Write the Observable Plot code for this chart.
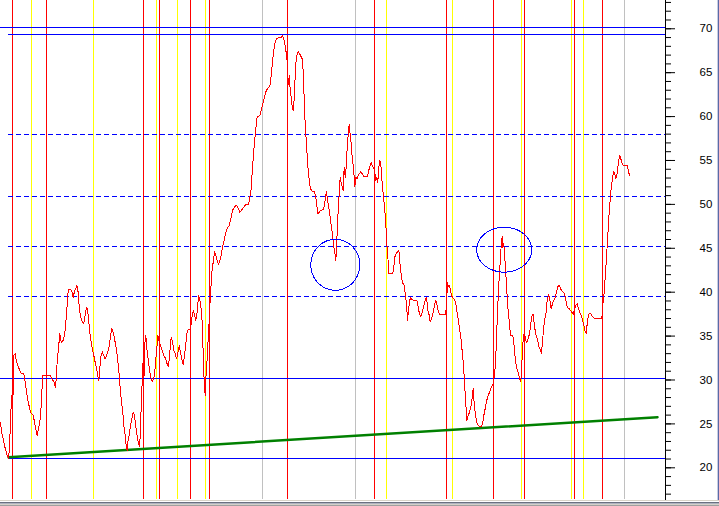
<!DOCTYPE html>
<html>
<head>
<meta charset="utf-8">
<script src="https://cdn.jsdelivr.net/npm/d3@7"></script>
<script src="https://cdn.jsdelivr.net/npm/@observablehq/plot@0.6"></script>
<style>
  html, body { margin: 0; padding: 0; background: #ffffff; }
  #wrap { position: relative; width: 719px; height: 506px; overflow: hidden; }
  #frameB { position: absolute; left: 0; top: 500px; width: 719px; height: 6px;
    background: linear-gradient(to bottom, #d8d4c8 0 1px, #ffffff 1px 2px, #6a7080 2px 3px, #b0b4c0 3px 4px, #d4d0c8 4px 5px, #a0a0a0 5px 6px); }
  #frameR { position: absolute; left: 717px; top: 0; width: 2px; height: 500px;
    background: linear-gradient(to right, #c8cce0 0 1px, #5a6aa8 1px 2px); }
</style>
</head>
<body>
<div id="wrap"></div>
<script>
// price series: [trading-day position, value]
const priceSeries = [
[0,25.2],[1,24.1],[2.7,23.3],[4.7,22.2],[6.7,21.4],[8,21.1],[9,22.2],[10.3,26.3],[11.3,28.2],[12.3,27.0],[13.3,32.8],[14.7,33.0],[15.7,32.2],[17.3,31.6],[19.3,31.1],[20.7,30.7],[23.3,30.7],[24.7,29.8],[26,28.6],[27.3,27.7],[29.3,26.7],[30.7,26.2],[32.7,26.0],[34,25.2],[35.3,24.4],[36.7,23.7],[38,24.4],[39.3,25.2],[40.3,26.3],[41.3,28.6],[42.3,30.5],[45.3,30.5],[50,30.5],[51.7,30.1],[53.3,29.8],[55,29.2],[56,30.5],[56.7,32.2],[58,33.6],[59.3,35.3],[60.7,34.3],[62.7,34.5],[64,35.1],[65,36.0],[66,37.7],[67,38.9],[67.7,40.3],[70,40.3],[71.7,40.0],[72.7,39.4],[74,40.1],[75.3,40.4],[76,40.8],[77.3,40.4],[78.3,38.9],[79.3,37.7],[80.7,37.0],[82,36.6],[83.3,36.4],[84.7,37.4],[86,38.3],[87,38.1],[88,37.0],[89.3,35.4],[90.7,34.3],[92,33.4],[93.3,32.8],[94.7,32.0],[96,31.3],[97.3,30.5],[98.3,29.9],[99.3,31.3],[100.3,32.6],[101.7,33.2],[103.3,32.8],[104.7,32.4],[106,32.8],[107.3,33.2],[108.7,33.9],[110,34.9],[111.3,35.9],[112.7,35.4],[114,34.7],[115.3,33.9],[116.7,32.8],[118,31.5],[119,30.1],[120,28.6],[121,27.5],[122.3,26.3],[123.3,24.8],[124.7,23.7],[125.7,22.5],[126.7,22.0],[127.7,23.3],[128.7,23.7],[130,24.8],[131.3,25.6],[132.7,26.3],[134,26.0],[135,25.0],[136,24.1],[137.3,23.1],[139,22.4],[140,24.1],[140.7,27.1],[141.7,29.8],[142.7,32.4],[143.7,30.5],[144.7,35.1],[145.7,34.7],[146.7,33.2],[148,32.0],[149.3,30.9],[150.7,30.1],[151.7,29.8],[152.7,30.1],[154,30.5],[155,32.0],[156.3,33.6],[157.3,35.1],[158.7,34.3],[160,33.9],[161.7,33.4],[163.3,32.8],[165.3,32.4],[166.7,31.8],[168,31.5],[169.3,33.2],[170.7,34.9],[172,34.3],[173.3,33.4],[174.7,33.0],[176,32.4],[177.3,33.0],[178.7,33.9],[180,33.2],[181.3,32.4],[182.7,31.8],[184,32.8],[185.3,34.1],[186.7,35.6],[188.7,35.8],[190,35.8],[191.3,37.0],[192.7,37.9],[194,37.4],[195.3,36.8],[196.7,37.7],[198,39.6],[199.3,39.2],[200.7,38.1],[202,36.0],[202.7,32.8],[203.7,29.8],[204.7,28.2],[205.7,30.9],[206.7,32.4],[207.7,34.7],[208.7,36.8],[209.7,39.2],[210.7,41.1],[211.7,42.7],[212.7,43.4],[214,44.6],[215.3,44.2],[216.7,43.6],[218,43.2],[219.3,43.6],[220.7,44.2],[222,45.1],[223.3,45.7],[224.7,46.5],[226,47.1],[227.3,47.4],[228.7,47.6],[230,48.2],[231.3,48.9],[232.7,49.5],[234,49.7],[236,49.9],[238,49.5],[239.3,49.1],[240.7,49.3],[242,49.5],[243.3,49.7],[244.7,49.9],[246,50.0],[248,50.0],[249.3,50.8],[250.7,51.8],[251.7,53.7],[252.7,55.2],[253.7,56.7],[254.7,57.9],[255.7,59.0],[256.7,60.0],[259.3,60.1],[260.7,60.7],[262,61.3],[263.3,61.9],[264.7,62.6],[266,63.0],[267.3,63.2],[268.7,63.4],[269.7,63.6],[270.7,64.7],[271.7,65.9],[272.7,67.0],[274,68.1],[275.3,68.7],[276.7,68.9],[278.7,69.0],[280.7,69.0],[282,69.2],[283.3,68.8],[284.7,68.1],[286,67.0],[286.7,66.2],[287.3,64.7],[288,63.6],[288.7,64.7],[289.3,63.6],[290.3,62.5],[291.3,61.5],[292,60.9],[292.7,60.7],[293.7,62.0],[294.7,64.7],[295.7,66.5],[296.7,67.1],[298,67.4],[299.3,67.1],[300.7,66.8],[302,66.5],[303,64.3],[304,60.9],[305,58.4],[306,56.9],[307,54.8],[308,53.5],[309,52.5],[310,51.8],[311.7,51.5],[314,51.5],[315.3,50.8],[316.3,49.9],[317.3,48.9],[318.7,49.1],[320,49.3],[322,49.4],[323.3,49.5],[324.7,50.5],[326,51.5],[327,50.5],[328.3,49.7],[329.7,48.5],[331,47.4],[332.3,46.3],[333.7,44.8],[334.7,44.2],[335.3,43.6],[336,44.8],[336.7,47.0],[337.7,49.3],[338.7,51.2],[339.7,53.1],[340.7,52.4],[341.7,52.0],[342.7,51.6],[343.7,54.2],[344.7,53.1],[345.7,54.2],[346.7,56.5],[347.7,58.0],[348.7,59.1],[349.7,57.9],[350.7,56.9],[351.7,55.4],[353,54.2],[354.3,52.0],[355.3,53.1],[356.7,52.9],[357.7,53.3],[359,53.5],[360.3,53.7],[361.7,53.5],[363,53.2],[367,53.2],[368.3,53.9],[369.7,54.4],[370.7,54.8],[371.7,54.4],[373,54.2],[374.3,53.7],[375.3,52.7],[376.3,53.1],[377.3,52.5],[378.3,54.2],[379.3,55.0],[380.3,54.6],[381.3,52.9],[382.3,51.6],[383.3,50.5],[384.3,49.3],[385.3,47.8],[386.3,45.5],[387.3,44.4],[388,42.1],[392.3,42.1],[393.3,42.9],[394.3,44.0],[395.7,44.4],[397,44.6],[398.3,44.8],[399.7,43.0],[401,41.7],[402.3,41.0],[403.7,40.8],[405,39.6],[406,38.7],[407,36.8],[408,37.9],[409,38.9],[410,39.4],[411,39.2],[412.3,39.1],[416.3,39.1],[417.7,38.3],[419,37.5],[420.3,37.2],[421.7,37.7],[423,38.3],[424.3,38.9],[425.7,39.4],[426.7,38.7],[427.7,37.7],[428.7,37.4],[429.7,36.6],[431,37.0],[432.3,37.5],[433.7,38.3],[435,39.1],[436.3,38.7],[437.7,37.9],[439,37.5],[445,37.5],[445.7,38.1],[446.3,39.4],[447,41.1],[448,40.6],[449,40.8],[450,40.2],[451,39.6],[452.3,39.4],[453.7,39.2],[455,38.9],[456.3,37.9],[457.3,37.2],[458.3,36.4],[459.3,35.6],[460.3,34.9],[461.3,33.7],[462.3,32.6],[463.3,31.1],[464.3,29.2],[465.3,27.3],[466.3,25.4],[467.7,26.0],[469,26.3],[470.3,26.9],[471.7,28.0],[472.7,29.0],[473.7,27.3],[475,26.0],[476.3,25.2],[477.7,24.8],[479,24.7],[481,24.7],[482.3,25.2],[483.7,26.2],[485,26.9],[486.3,27.7],[487.7,28.2],[489,28.6],[490.3,29.0],[491.7,29.4],[493,29.6],[494.7,31.5],[495.7,33.7],[496.7,36.8],[497.7,39.4],[498.7,41.7],[500,44.0],[501,45.9],[501.7,46.3],[502.3,45.1],[503.3,45.5],[504.3,44.0],[505.3,42.1],[506.3,40.2],[507.3,38.3],[508.7,36.8],[510,35.1],[511.3,35.1],[512.7,34.9],[514,33.4],[515,32.2],[516,31.5],[517,31.1],[518,30.7],[519,30.3],[520,29.8],[521,30.7],[522,33.7],[523,34.9],[524,35.5],[525,34.5],[526.3,34.3],[527.7,34.7],[529,35.3],[530.3,36.4],[531.7,37.4],[532.7,37.5],[533.7,36.4],[534.7,35.6],[536,34.9],[537.3,34.5],[538.7,33.7],[540,33.4],[541,33.0],[542,34.5],[543,35.6],[544,36.8],[545.3,37.4],[546.3,38.7],[547.3,39.4],[548.3,39.7],[549.3,39.1],[550.7,38.1],[552,38.7],[553.3,39.1],[554.7,39.4],[556,40.0],[557.3,40.6],[558.7,40.8],[560,40.4],[561.3,40.2],[562.7,40.0],[564,39.8],[565.3,39.1],[566.7,38.3],[568.7,38.1],[570,37.9],[571.3,37.7],[572.7,37.5],[574,38.1],[575.3,38.5],[576.7,38.7],[578,38.1],[579.3,37.7],[580.7,37.4],[582,36.8],[583.3,36.2],[584.7,35.5],[585.7,35.3],[586.7,36.4],[588,37.5],[589.3,37.6],[590.7,37.5],[592,37.2],[594,37.0],[601.3,37.0],[602,37.9],[602.7,39.1],[603.3,39.4],[604,40.6],[605,42.1],[606,44.0],[607,45.9],[608,47.8],[609,49.7],[610,50.8],[611,52.4],[612,52.7],[612.7,53.5],[613.3,53.7],[614.3,53.5],[615.3,52.9],[616.3,53.3],[617.3,54.2],[618.3,55.0],[619.3,55.6],[620.3,55.2],[621.3,54.8],[622.7,54.4],[626.7,54.4],[627.7,53.9],[629,53.3]
];

// vertical markers (trading-day positions)
const redDays = [12, 46, 143, 159, 190, 209, 287, 374, 446, 493, 524, 574, 602];
const yellowDays = [31, 93, 156, 177, 205, 386, 452, 521, 571, 583];
const grayDays = [262, 355, 624];

// horizontal levels
const solidFullLevels = [70.145, 30.171];
const solidLevels = [69.348, 21.06];
const dashedLevels = [57.959, 50.898, 45.204, 39.51];
const levelStartDay = 8;

// trend line
const trendDays = [8, 657];
const trendValues = [21.2, 25.77];

// circled areas: center day, center value, radius (days), radius (value)
const circleCenters = [[334.8, 43.12], [503.7, 44.84]];
const circleRadii = [[24.5, 2.9], [27.5, 2.56]];

// axis ticks
const majorTicks = [20, 25, 30, 35, 40, 45, 50, 55, 60, 65, 70];
const minorTicks = d3.range(17, 74);

const xDomain = [0, 665];
const yDomain = [16.39, 73.22];

const trend = trendDays.map((d, i) => ({day: d, value: trendValues[i]}));
const ellipses = [];
circleCenters.forEach((c, k) => {
  for (let i = 0; i <= 72; i++) {
    const a = (i / 72) * 2 * Math.PI;
    ellipses.push({k, day: c[0] + circleRadii[k][0] * Math.cos(a), value: c[1] + circleRadii[k][1] * Math.sin(a)});
  }
});

const crisp = {shapeRendering: "crispEdges"};

const chart = Plot.plot({
  width: 719,
  height: 500,
  marginLeft: 0,
  marginRight: 54,
  marginTop: 0,
  marginBottom: 1,
  x: {domain: xDomain, axis: null},
  y: {domain: yDomain, axis: null},
  style: {background: "#ffffff", fontFamily: "'Liberation Sans', Arial, sans-serif", fontSize: "11.5px", color: "#000"},
  marks: [
    Plot.ruleX(grayDays, {stroke: "#c0c0c0", strokeWidth: 1, ...crisp}),
    Plot.ruleX(yellowDays, {stroke: "#ffff00", strokeWidth: 1, ...crisp}),
    Plot.ruleX(redDays, {stroke: "#ff0000", strokeWidth: 1, ...crisp}),
    Plot.ruleY(solidFullLevels, {x1: xDomain[0], x2: xDomain[1], stroke: "#0000ff", strokeWidth: 1, ...crisp}),
    Plot.ruleY(solidLevels, {x1: levelStartDay, x2: xDomain[1], stroke: "#0000ff", strokeWidth: 1, ...crisp}),
    Plot.ruleY(dashedLevels, {x1: levelStartDay, x2: xDomain[1], stroke: "#0000ff", strokeWidth: 1, strokeDasharray: "5,3", ...crisp}),
    Plot.line(trend, {x: "day", y: "value", stroke: "#008000", strokeWidth: 2.5}),
    Plot.line(priceSeries, {x: d => d[0], y: d => d[1], stroke: "#ff0000", strokeWidth: 1, ...crisp}),
    Plot.line(ellipses, {x: "day", y: "value", z: "k", stroke: "#0000ff", strokeWidth: 1, ...crisp}),
    Plot.axisY(minorTicks, {anchor: "right", label: null, tickSize: 5, tickFormat: () => "", stroke: "#000"}),
    Plot.axisY(majorTicks, {anchor: "right", label: null, tickSize: 9, tickPadding: 25, tickFormat: d => String(d), stroke: "#000", fill: "#000"}),
    Plot.frame({anchor: "right", stroke: "#000"})
  ]
});

const wrap = document.getElementById("wrap");
wrap.appendChild(chart);
const fb = document.createElement("div"); fb.id = "frameB"; wrap.appendChild(fb);
const fr = document.createElement("div"); fr.id = "frameR"; wrap.appendChild(fr);
</script>
</body>
</html>
